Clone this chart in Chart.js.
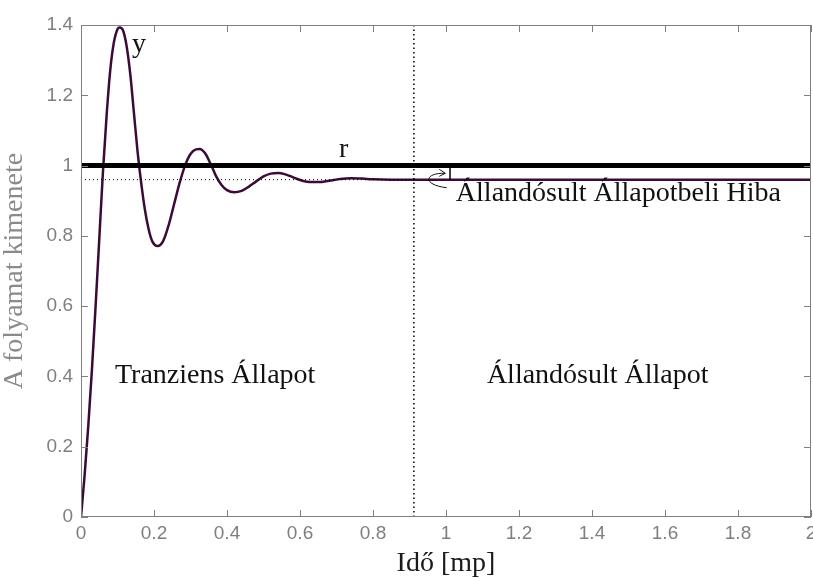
<!DOCTYPE html>
<html>
<head>
<meta charset="utf-8">
<script src="https://cdn.jsdelivr.net/npm/chart.js@4.4.1/dist/chart.umd.min.js"></script>
<style>
  html, body { margin: 0; padding: 0; background: #ffffff; }
  #wrap { width: 813px; height: 580px; }
</style>
</head>
<body>
<div id="wrap"><canvas id="responseChart" width="813" height="580"></canvas></div>
<script>
// step response (time in s, output)
const timeValues = [
  0, 0.01, 0.02, 0.03, 0.04, 0.05, 0.06, 0.07, 0.08, 0.09, 0.1, 0.106, 0.115, 0.125,
  0.135, 0.145, 0.155, 0.165, 0.175, 0.185, 0.195, 0.21, 0.225, 0.24, 0.255, 0.27,
  0.285, 0.3, 0.315, 0.325, 0.34, 0.355, 0.37, 0.385, 0.4, 0.42, 0.44, 0.46, 0.48,
  0.5, 0.52, 0.54, 0.56, 0.58, 0.6, 0.62, 0.65, 0.68, 0.71, 0.74, 0.77, 0.8, 0.85,
  0.9, 1.0, 1.5, 2.0
];
const outputValues = [
  0, 0.12, 0.26, 0.42, 0.6, 0.79, 0.98, 1.14, 1.27, 1.35, 1.388, 1.393, 1.385, 1.34,
  1.26, 1.15, 1.04, 0.95, 0.875, 0.82, 0.785, 0.771, 0.785, 0.83, 0.89, 0.95,
  1.0, 1.033, 1.046, 1.047, 1.035, 1.005, 0.97, 0.945, 0.93, 0.924, 0.928, 0.94, 0.955,
  0.969, 0.977, 0.979, 0.975, 0.967, 0.959, 0.954, 0.953, 0.957, 0.962, 0.964, 0.963, 0.961, 0.96,
  0.96, 0.96, 0.96, 0.96
];
const referenceLevel = 1.0;
const steadyStateLevel = 0.96;
const transientEnd = 0.912;
const errorMarkerTime = 1.011;

const xTickValues = [0, 0.2, 0.4, 0.6, 0.8, 1, 1.2, 1.4, 1.6, 1.8, 2];
const xTickLabels = ["0", "0.2", "0.4", "0.6", "0.8", "1", "1.2", "1.4", "1.6", "1.8", "2"];
const yTickValues = [0, 0.2, 0.4, 0.6, 0.8, 1, 1.2, 1.4];
const yTickLabels = ["0", "0.2", "0.4", "0.6", "0.8", "1", "1.2", "1.4"];

const serif = "'Liberation Serif', 'Times New Roman', serif";
const sans = "'Liberation Sans', Arial, sans-serif";

// text notes placed in data coordinates (left edge, baseline)
const notes = [
  { text: "y", x: 0.14, y: 1.323 },
  { text: "r", x: 0.707, y: 1.0245 },
  { text: "Tranziens Állapot", x: 0.093, y: 0.38 },
  { text: "Állandósult Állapot", x: 1.112, y: 0.38 },
  { text: "Állandósult Állapotbeli Hiba", x: 1.027, y: 0.899 },
];

const framePlugin = {
  id: "frameAndNotes",
  afterDatasetsDraw(chart) {
    const { ctx, chartArea: a, scales: { x, y } } = chart;
    ctx.save();

    // axes box
    ctx.strokeStyle = "#808080";
    ctx.lineWidth = 1;
    ctx.strokeRect(a.left + 0.5, a.top + 0.5, a.right - a.left - 1, a.bottom - a.top - 1);

    // inward ticks
    ctx.beginPath();
    xTickValues.forEach((v) => {
      const px = Math.round(x.getPixelForValue(v)) + 0.5;
      ctx.moveTo(px, a.bottom);
      ctx.lineTo(px, a.bottom - 7);
      ctx.moveTo(px, a.top);
      ctx.lineTo(px, a.top + 7);
    });
    yTickValues.forEach((v) => {
      const py = Math.round(y.getPixelForValue(v)) + 0.5;
      ctx.moveTo(a.left, py);
      ctx.lineTo(a.left + 7, py);
      ctx.moveTo(a.right, py);
      ctx.lineTo(a.right - 7, py);
    });
    ctx.stroke();

    // curved arrow toward the error marker
    const p = (tx, ty) => [x.getPixelForValue(tx), y.getPixelForValue(ty)];
    const s = p(1.002, 0.937);
    const c1 = p(0.935, 0.945);
    const c2 = p(0.94, 0.98);
    const e = p(0.998, 0.978);
    ctx.strokeStyle = "#111111";
    ctx.lineWidth = 1;
    ctx.beginPath();
    ctx.moveTo(s[0], s[1]);
    ctx.bezierCurveTo(c1[0], c1[1], c2[0], c2[1], e[0], e[1]);
    ctx.moveTo(e[0] - 6, e[1] - 4);
    ctx.lineTo(e[0], e[1]);
    ctx.lineTo(e[0] - 6, e[1] + 3);
    ctx.stroke();

    // text notes
    ctx.fillStyle = "#111111";
    ctx.font = "28px " + serif;
    ctx.textAlign = "left";
    ctx.textBaseline = "alphabetic";
    notes.forEach((n) => {
      ctx.fillText(n.text, x.getPixelForValue(n.x), y.getPixelForValue(n.y));
    });
    ctx.restore();
  },
};

const responseCtx = document.getElementById("responseChart");
new Chart(responseCtx, {
  type: "line",
  data: {
    datasets: [
      {
        data: [{ x: 0, y: referenceLevel }, { x: 2, y: referenceLevel }],
        borderColor: "#000000",
        borderWidth: 5,
      },
      {
        data: [{ x: 0, y: steadyStateLevel }, { x: transientEnd, y: steadyStateLevel }],
        borderColor: "#000000",
        borderWidth: 1,
        borderDash: [1, 3],
      },
      {
        data: [{ x: transientEnd, y: 0 }, { x: transientEnd, y: 1.4 }],
        borderColor: "#000000",
        borderWidth: 1.5,
        borderDash: [1.5, 3],
      },
      {
        data: [{ x: errorMarkerTime, y: steadyStateLevel }, { x: errorMarkerTime, y: referenceLevel }],
        borderColor: "#000000",
        borderWidth: 1.5,
      },
      {
        data: timeValues.map((t, i) => ({ x: t, y: outputValues[i] })),
        borderColor: "#3b0b38",
        borderWidth: 2.5,
        cubicInterpolationMode: "monotone",
      },
    ],
  },
  options: {
    responsive: false,
    animation: false,
    layout: { padding: { top: 25, right: 2, left: 0, bottom: 0 } },
    plugins: {
      legend: { display: false },
      tooltip: { enabled: false },
    },
    elements: {
      point: { radius: 0 },
    },
    scales: {
      x: {
        type: "linear",
        min: 0,
        max: 2,
        grid: { display: false, drawTicks: false },
        border: { display: false },
        afterBuildTicks: (scale) => {
          scale.ticks = xTickValues.map((v) => ({ value: v }));
        },
        afterFit: (scale) => {
          scale.height = 63;
          scale.paddingLeft = 0;
          scale.paddingRight = 0;
        },
        ticks: {
          autoSkip: false,
          maxRotation: 0,
          padding: 5,
          color: "#7f7f7f",
          font: { family: sans, size: 19 },
          callback: (value, index) => xTickLabels[index],
        },
        title: {
          display: true,
          text: "Idő [mp]",
          color: "#1a1a1a",
          font: { family: serif, size: 28 },
          padding: { top: 0, bottom: 0 },
        },
      },
      y: {
        type: "linear",
        min: 0,
        max: 1.4,
        grid: { display: false, drawTicks: false },
        border: { display: false },
        afterBuildTicks: (scale) => {
          scale.ticks = yTickValues.map((v) => ({ value: v }));
        },
        afterFit: (scale) => {
          scale.width = 81;
        },
        ticks: {
          autoSkip: false,
          padding: 8,
          color: "#7f7f7f",
          font: { family: sans, size: 19 },
          callback: (value, index) => yTickLabels[index],
        },
        title: {
          display: true,
          text: "A folyamat kimenete",
          color: "#8a8a8a",
          font: { family: serif, size: 28, lineHeight: 1 },
          padding: { top: 1, bottom: 0 },
        },
      },
    },
  },
  plugins: [framePlugin],
});
</script>
</body>
</html>
